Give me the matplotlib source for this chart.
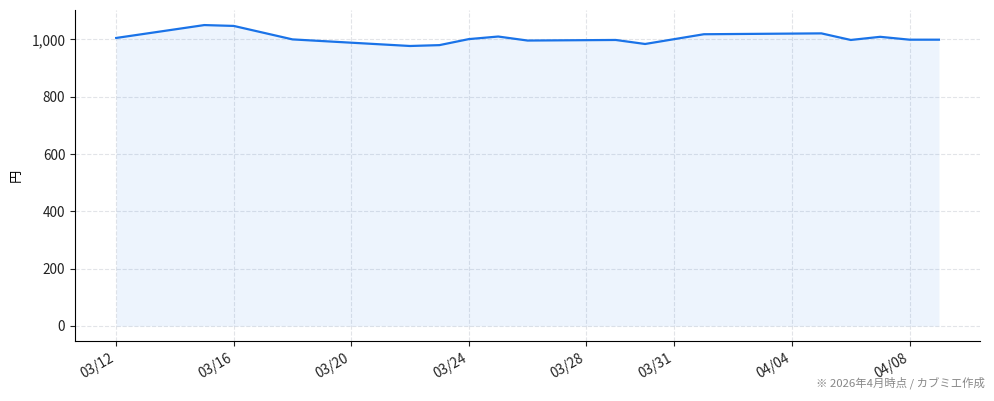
import numpy as np
import pandas as pd
import matplotlib
matplotlib.use("Agg")
import matplotlib.pyplot as plt
import matplotlib.dates as mdates

plt.rcParams['font.family'] = ['Noto Sans CJK JP', 'DejaVu Sans']

# price data
dates = ["2026-03-12", "2026-03-15", "2026-03-16", "2026-03-18", "2026-03-22",
         "2026-03-23", "2026-03-24", "2026-03-25", "2026-03-26", "2026-03-29",
         "2026-03-30", "2026-03-31", "2026-04-01", "2026-04-05", "2026-04-06",
         "2026-04-07", "2026-04-08", "2026-04-09"]
prices = [1005, 1050, 1047, 1000, 977,
          980, 1001, 1010, 996, 998,
          984, 1001, 1018, 1021, 998,
          1009, 999, 999]
tick_dates = ["2026-03-12", "2026-03-16", "2026-03-20", "2026-03-24",
              "2026-03-28", "2026-03-31", "2026-04-04", "2026-04-08"]
ylabel = "円"
note = "※ 2026年4月時点 / カブミエ作成"

x = pd.to_datetime(dates)
line_color = "#1a73e8"

fig = plt.figure(figsize=(9.94, 4.01), dpi=100)
ax = fig.add_axes([0.0755, 0.1496, 0.9105, 0.8254])

ax.fill_between(x, prices, 0, color=line_color, alpha=0.08, linewidth=0)
ax.plot(x, prices, color=line_color, linewidth=1.6)

ax.set_xticks(pd.to_datetime(tick_dates))
ax.xaxis.set_major_formatter(mdates.DateFormatter("%m/%d"))
plt.setp(ax.get_xticklabels(), rotation=30, ha="right")
ax.yaxis.set_major_formatter(matplotlib.ticker.FuncFormatter(lambda v, p: f"{int(v):,}"))
ax.set_yticks([0, 200, 400, 600, 800, 1000])
ax.tick_params(labelsize=9.8, colors="#222222")

ax.grid(True, linestyle="--", color="#cfd3da", alpha=0.6, linewidth=0.8)
ax.set_axisbelow(True)
ax.spines["top"].set_visible(False)
ax.spines["right"].set_visible(False)
ax.set_ylabel(ylabel, fontsize=9.5, labelpad=6)

fig.text(0.991, 0.03, note, ha="right", va="bottom", fontsize=8.2, color="#888888")

fig.savefig("out.png", dpi=100)
